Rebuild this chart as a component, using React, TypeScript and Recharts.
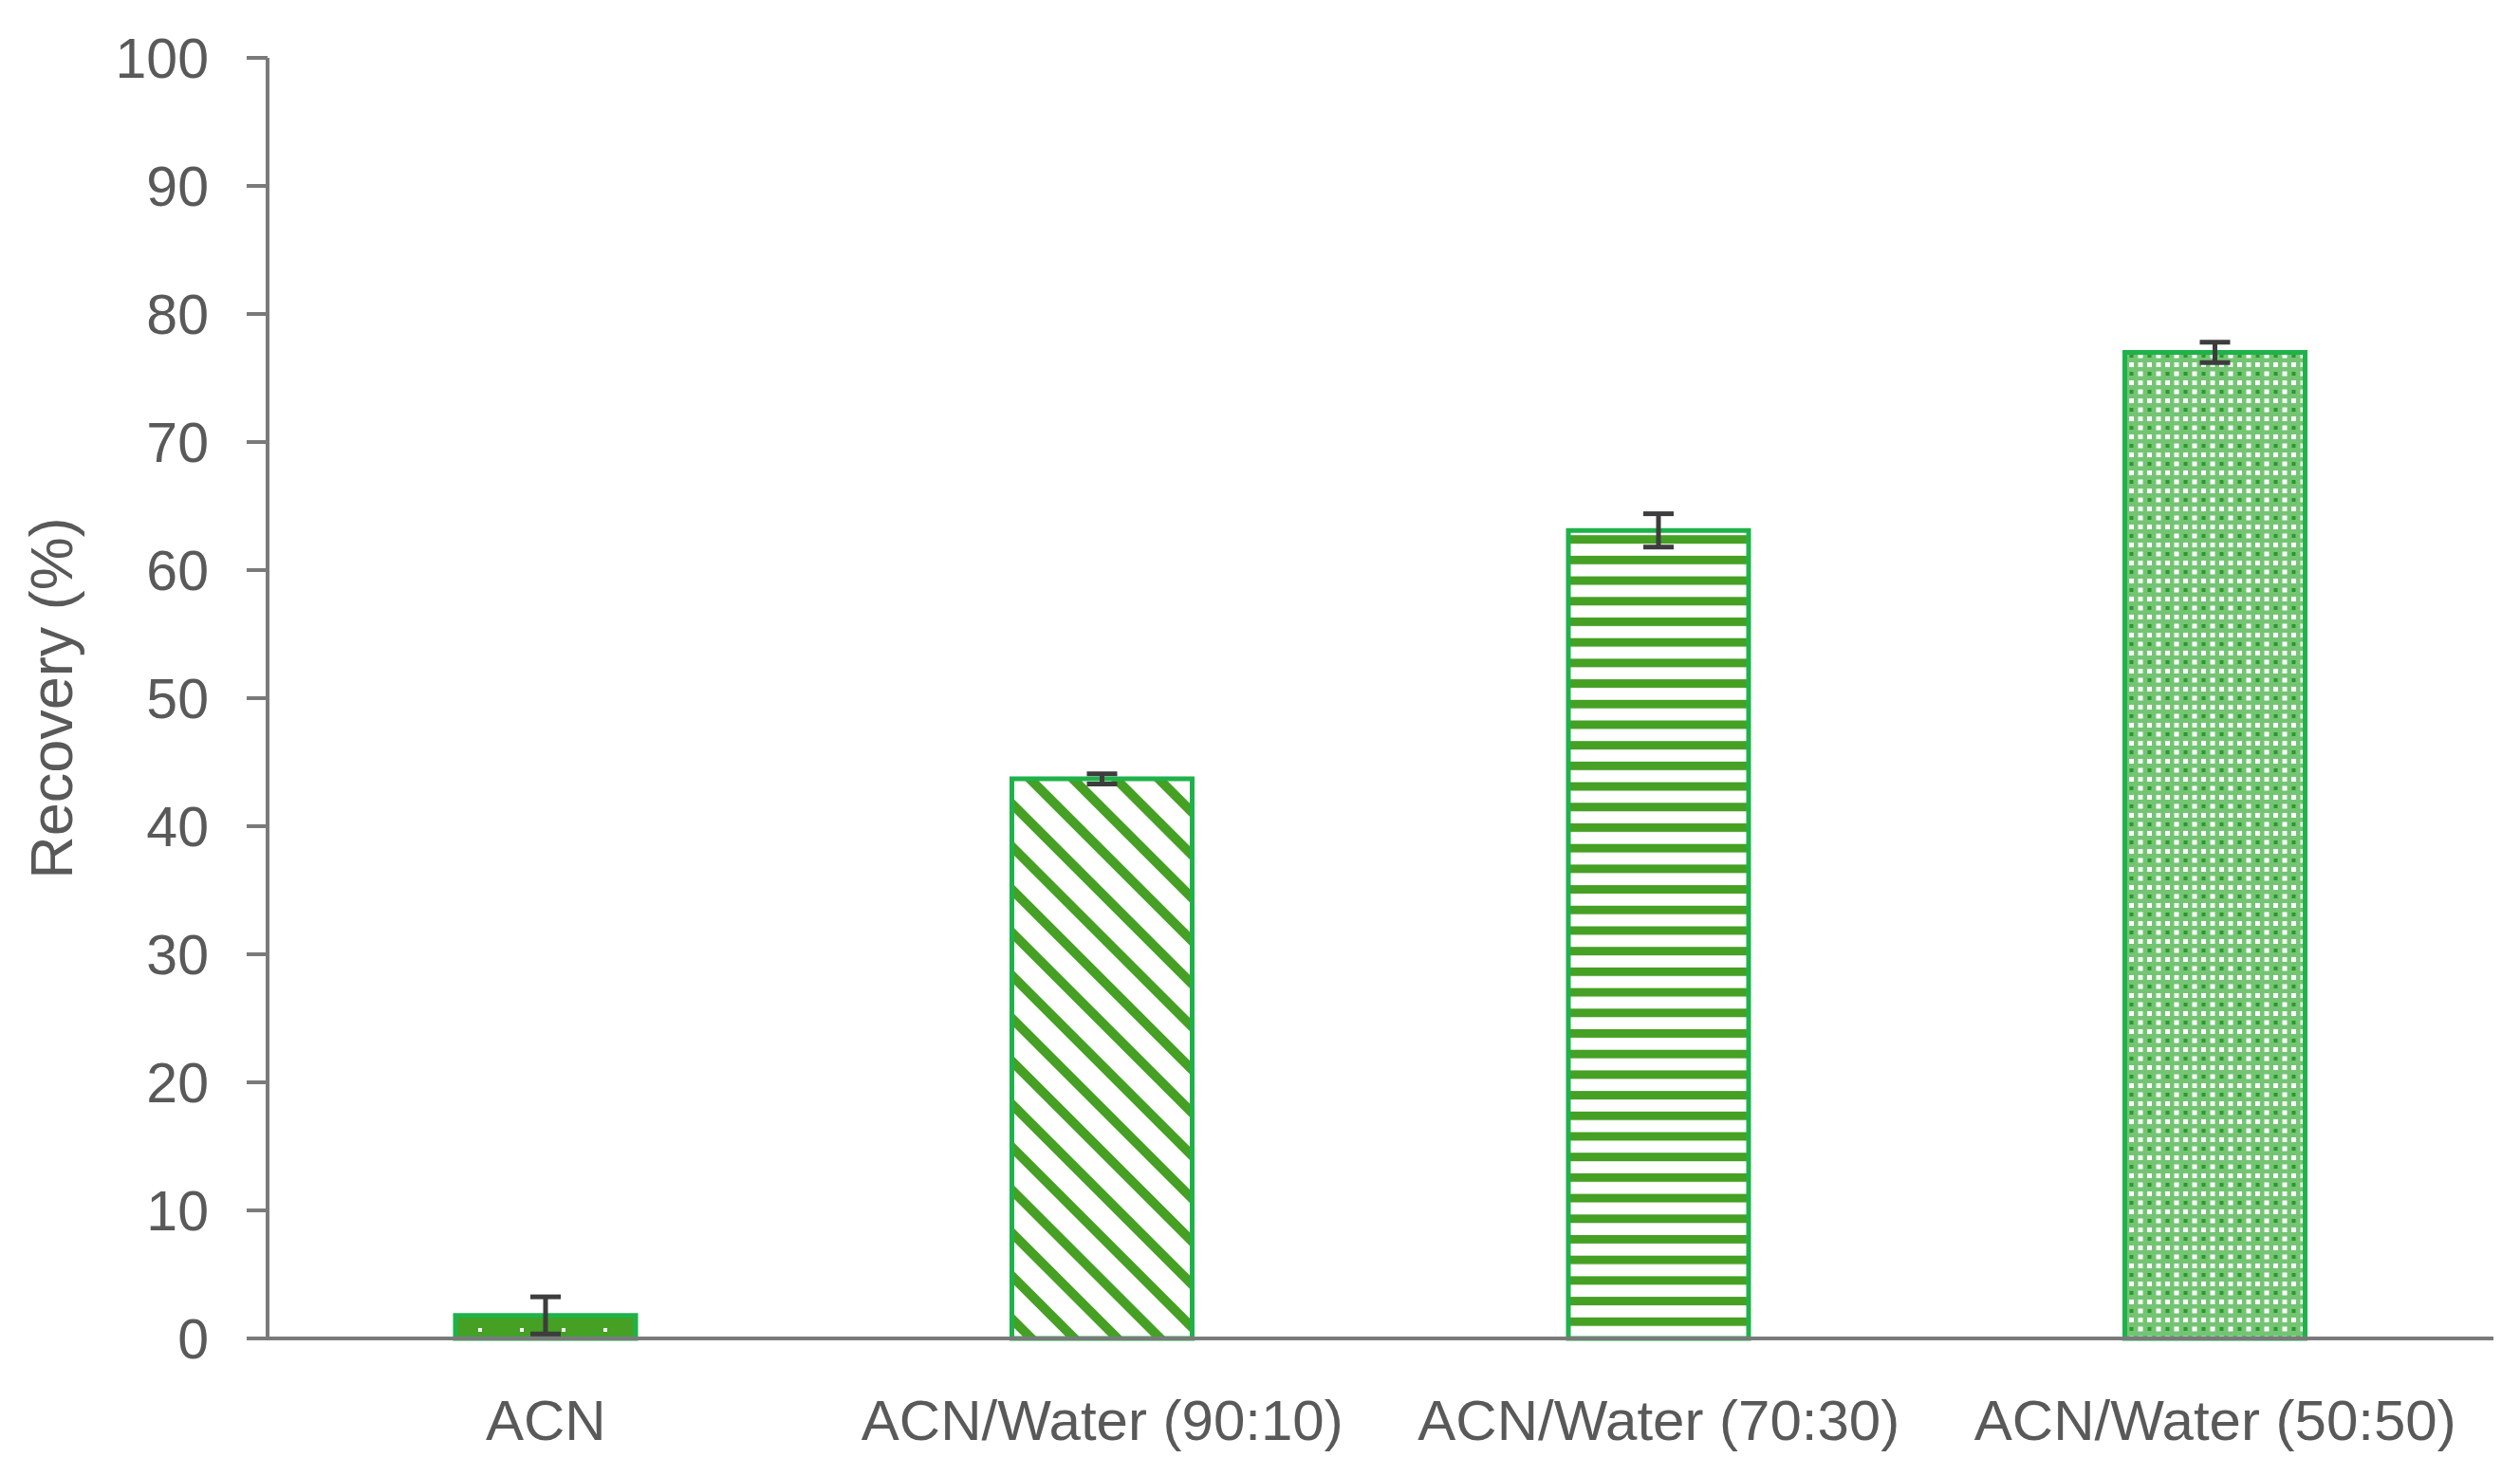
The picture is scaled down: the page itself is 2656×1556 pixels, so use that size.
import React from 'react';
import { BarChart, Bar, XAxis, YAxis, ErrorBar, Cell } from 'recharts';

// solvent systems on the x axis
const categories = ['ACN', 'ACN/Water (90:10)', 'ACN/Water (70:30)', 'ACN/Water (50:50)'];
// mean recovery (%) and its error
const recovery = [1.8, 43.7, 63.1, 77.0];
const recoveryErr = [1.45, 0.4, 1.3, 0.8];
const yTicks = [0, 10, 20, 30, 40, 50, 60, 70, 80, 90, 100];
const patternIds = ['patDots', 'patDiag', 'patHoriz', 'patGrid'];

const FONT = '"Liberation Sans", Arial, sans-serif';
const TEXT = '#595959';
const AXIS = '#7a7a7a';
const BORDER = '#1fb24a';
const FILL = '#45a024';

const data = categories.map((name, i) => ({
  name,
  recovery: recovery[i],
  err: recoveryErr[i],
}));

const XTick = (props: any) => {
  const { x, y, payload } = props;
  return (
    <text x={x} y={y} dy={107} textAnchor="middle" fill={TEXT} fontSize={60} fontFamily={FONT}>
      {payload.value}
    </text>
  );
};

const YTitle = (props: any) => {
  const vb = props.viewBox || {};
  const cy = vb.y + vb.height / 2;
  return (
    <text
      x={54}
      y={cy}
      transform={`rotate(-90, 54, ${cy})`}
      textAnchor="middle"
      dominantBaseline="central"
      fill={TEXT}
      fontSize={63}
      fontFamily={FONT}
    >
      Recovery (%)
    </text>
  );
};

export default function App() {
  return (
    <div style={{ marginLeft: -8, marginTop: -8, background: '#fff', width: 2656, height: 1556 }}>
      <BarChart
        width={2656}
        height={1556}
        data={data}
        margin={{ top: 61, right: 28, bottom: 0, left: 0 }}
      >
        <defs>
          <pattern id="patDots" patternUnits="userSpaceOnUse" width="44" height="22">
            <rect width="44" height="22" fill={FILL} />
            <rect x="20" y="14" width="4" height="4" fill="#fff" />
          </pattern>
          <pattern
            id="patDiag"
            patternUnits="userSpaceOnUse"
            width="32"
            height="32"
            patternTransform="rotate(45)"
          >
            <rect width="32" height="32" fill="#fff" />
            <rect y="0" width="32" height="10" fill={FILL} />
          </pattern>
          <pattern id="patHoriz" patternUnits="userSpaceOnUse" width="22" height="21.7">
            <rect width="22" height="21.7" fill="#fff" />
            <rect y="0" width="22" height="9" fill={FILL} />
          </pattern>
          <pattern id="patGrid" patternUnits="userSpaceOnUse" width="19" height="19">
            <rect width="19" height="19" fill="#74c474" />
            <rect x="2" y="2" width="5" height="5" fill="#fff" />
            <rect x="11.5" y="11.5" width="5" height="5" fill="#fff" />
            <rect x="11.5" y="2" width="5" height="5" fill="#eef8ee" />
            <rect x="2.5" y="12" width="4" height="4" fill="#2a9a2a" />
          </pattern>
        </defs>
        <XAxis
          dataKey="name"
          axisLine={{ stroke: AXIS, strokeWidth: 4 }}
          tickLine={false}
          tickSize={0}
          tickMargin={0}
          height={145}
          tick={<XTick />}
          interval={0}
        />
        <YAxis
          type="number"
          domain={[0, 100]}
          ticks={yTicks}
          width={282}
          axisLine={{ stroke: AXIS, strokeWidth: 4 }}
          tickLine={{ stroke: AXIS, strokeWidth: 4 }}
          tickSize={22}
          tickMargin={40}
          tick={{ fill: TEXT, fontSize: 59, fontFamily: FONT }}
          label={<YTitle />}
        />
        <Bar dataKey="recovery" barSize={190} stroke={BORDER} strokeWidth={5} isAnimationActive={false}>
          {data.map((d, i) => (
            <Cell key={d.name} fill={`url(#${patternIds[i]})`} />
          ))}
          <ErrorBar dataKey="err" width={16} stroke="#3d3d3d" strokeWidth={5} direction="y" />
        </Bar>
      </BarChart>
    </div>
  );
}
